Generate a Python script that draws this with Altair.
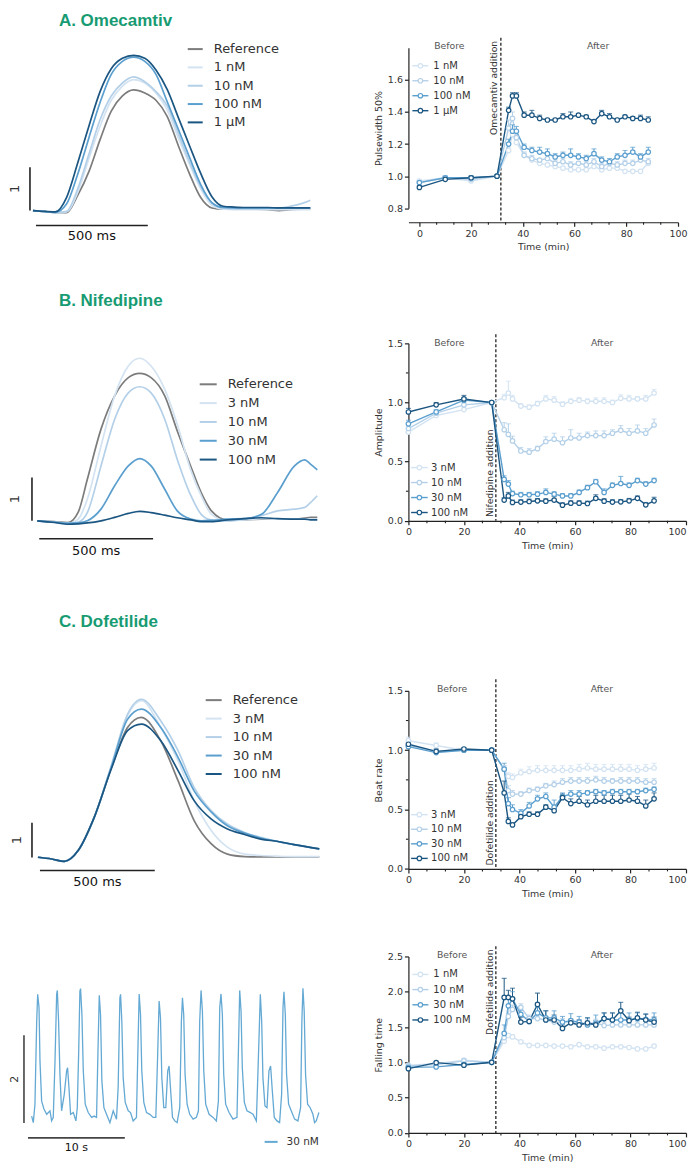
import altair as alt
import pandas as pd

FONT = "DejaVu Sans"
TITLE_FONT = "Liberation Sans"
GREEN = "#179b72"
INK = "#222222"
TXT = "#333333"
SOFT = "#555555"
GRAY = "#7c7c7c"
C1, C2, C3, C4 = "#d3e3f2", "#b4d0e8", "#5b9fcf", "#1b5682"

# ---------------- time-course data (right column) ----------------
TIME_MIN = [0, 10, 20, 30, 34.5, 36, 37.5, 40.5, 43.5, 46.5, 49.5, 52.5, 55.5, 58.5,
            61.5, 64.5, 67.5, 70.5, 73.5, 76.5, 79.5, 82.5, 85.5, 88.5]
ADDITION_MIN = [31.5]
X_MAJOR = [0, 20, 40, 60, 80, 100]
X_MINOR = [6.67, 13.33, 26.67, 33.33, 46.67, 53.33, 66.67, 73.33, 86.67, 93.33]

# A. Omecamtiv - Pulsewidth 50%
A_LABELS = ["1 nM", "10 nM", "100 nM", "1 µM"]
A_1NM = [0.97, 0.99, 0.97, 1.00, 1.16, 1.26, 1.21, 1.13, 1.10, 1.08, 1.07, 1.06, 1.05, 1.04, 1.04, 1.04, 1.06, 1.04, 1.05, 1.05, 1.03, 1.03, 1.03, 1.08]
A_10NM = [0.96, 0.99, 0.98, 1.00, 1.30, 1.36, 1.24, 1.13, 1.11, 1.10, 1.11, 1.08, 1.09, 1.07, 1.08, 1.07, 1.09, 1.06, 1.08, 1.07, 1.08, 1.08, 1.10, 1.09]
A_100NM = [0.96, 0.99, 0.99, 1.00, 1.20, 1.28, 1.28, 1.18, 1.16, 1.15, 1.14, 1.12, 1.13, 1.13, 1.12, 1.11, 1.14, 1.10, 1.09, 1.12, 1.13, 1.15, 1.12, 1.15]
A_1UM = [0.93, 0.98, 0.99, 1.00, 1.41, 1.50, 1.50, 1.38, 1.38, 1.36, 1.35, 1.35, 1.37, 1.37, 1.38, 1.37, 1.34, 1.39, 1.37, 1.35, 1.37, 1.36, 1.36, 1.35]
A_1NM_ERR = [0.01, 0.01, 0.01, 0, 0.02, 0.03, 0.02, 0.02, 0.01, 0.01, 0.01, 0.01, 0.01, 0.01, 0.01, 0.01, 0.02, 0.01, 0.01, 0.01, 0.01, 0.01, 0.01, 0.01]
A_10NM_ERR = [0.01, 0.01, 0.01, 0, 0.05, 0.04, 0.03, 0.02, 0.02, 0.01, 0.02, 0.02, 0.02, 0.02, 0.01, 0.02, 0.02, 0.02, 0.01, 0.02, 0.02, 0.02, 0.02, 0.02]
A_100NM_ERR = [0.01, 0.01, 0.01, 0, 0.03, 0.04, 0.03, 0.02, 0.02, 0.03, 0.03, 0.02, 0.02, 0.04, 0.02, 0.02, 0.03, 0.02, 0.02, 0.02, 0.03, 0.03, 0.02, 0.03]
A_1UM_ERR = [0.01, 0.01, 0.01, 0, 0.02, 0.02, 0.02, 0.02, 0.03, 0.02, 0.01, 0.01, 0.02, 0.03, 0.01, 0.01, 0.01, 0.02, 0.02, 0.01, 0.01, 0.01, 0.02, 0.02]

# B. Nifedipine - Amplitude
B_LABELS = ["3 nM", "10 nM", "30 nM", "100 nM"]
B_3NM = [0.75, 0.89, 0.94, 1.00, 1.04, 1.08, 1.03, 0.97, 0.96, 0.99, 1.03, 1.02, 0.985, 1.01, 1.02, 1.01, 1.01, 1.01, 1.00, 1.035, 1.03, 1.03, 1.03, 1.08]
B_10NM = [0.78, 0.91, 0.98, 1.00, 0.77, 0.73, 0.675, 0.59, 0.58, 0.61, 0.67, 0.69, 0.66, 0.70, 0.70, 0.72, 0.72, 0.72, 0.74, 0.765, 0.74, 0.76, 0.74, 0.81]
B_30NM = [0.82, 0.92, 1.02, 1.00, 0.35, 0.31, 0.23, 0.22, 0.22, 0.225, 0.24, 0.225, 0.21, 0.21, 0.24, 0.28, 0.33, 0.24, 0.30, 0.315, 0.30, 0.34, 0.31, 0.34]
B_100NM = [0.92, 0.98, 1.03, 1.00, 0.175, 0.21, 0.155, 0.158, 0.163, 0.169, 0.166, 0.175, 0.132, 0.149, 0.149, 0.146, 0.19, 0.166, 0.158, 0.16, 0.169, 0.19, 0.135, 0.169]
B_3NM_ERR = [0.02, 0.02, 0.02, 0, 0.03, 0.10, 0.03, 0.02, 0.02, 0.02, 0.03, 0.03, 0.02, 0.02, 0.02, 0.02, 0.03, 0.03, 0.02, 0.03, 0.03, 0.02, 0.03, 0.03]
B_10NM_ERR = [0.02, 0.02, 0.02, 0, 0.06, 0.09, 0.04, 0.03, 0.03, 0.02, 0.04, 0.05, 0.05, 0.07, 0.04, 0.03, 0.04, 0.04, 0.03, 0.04, 0.04, 0.05, 0.04, 0.05]
B_30NM_ERR = [0.03, 0.02, 0.02, 0, 0.03, 0.03, 0.02, 0.02, 0.02, 0.02, 0.03, 0.02, 0.02, 0.02, 0.02, 0.02, 0.02, 0.03, 0.02, 0.06, 0.02, 0.02, 0.02, 0.02]
B_100NM_ERR = [0.03, 0.02, 0.03, 0, 0.02, 0.03, 0.02, 0.02, 0.02, 0.02, 0.02, 0.03, 0.02, 0.02, 0.02, 0.02, 0.03, 0.02, 0.02, 0.02, 0.02, 0.02, 0.02, 0.03]

# C. Dofetilide - Beat rate
C_LABELS = ["3 nM", "10 nM", "30 nM", "100 nM"]
C_3NM = [1.08, 1.04, 1.00, 1.00, 0.84, 0.78, 0.77, 0.81, 0.82, 0.83, 0.83, 0.83, 0.83, 0.83, 0.84, 0.85, 0.84, 0.84, 0.84, 0.84, 0.84, 0.83, 0.84, 0.85]
C_10NM = [1.04, 0.99, 1.00, 1.00, 0.84, 0.66, 0.63, 0.63, 0.66, 0.67, 0.70, 0.71, 0.73, 0.74, 0.74, 0.74, 0.75, 0.74, 0.74, 0.74, 0.74, 0.74, 0.73, 0.73]
C_30NM = [1.03, 0.98, 1.00, 1.00, 0.84, 0.55, 0.50, 0.47, 0.53, 0.59, 0.61, 0.52, 0.61, 0.63, 0.63, 0.64, 0.65, 0.64, 0.65, 0.65, 0.65, 0.65, 0.66, 0.67]
C_100NM = [1.05, 0.99, 1.01, 1.00, 0.64, 0.40, 0.37, 0.44, 0.46, 0.46, 0.52, 0.49, 0.60, 0.55, 0.57, 0.54, 0.57, 0.57, 0.57, 0.57, 0.58, 0.57, 0.53, 0.59]
C_3NM_ERR = [0.03, 0.02, 0.01, 0, 0.03, 0.03, 0.03, 0.03, 0.04, 0.04, 0.04, 0.04, 0.04, 0.04, 0.04, 0.04, 0.04, 0.04, 0.04, 0.04, 0.04, 0.04, 0.04, 0.04]
C_10NM_ERR = [0.02, 0.02, 0.01, 0, 0.03, 0.04, 0.03, 0.02, 0.02, 0.02, 0.02, 0.03, 0.03, 0.03, 0.03, 0.03, 0.03, 0.03, 0.02, 0.03, 0.03, 0.03, 0.03, 0.03]
C_30NM_ERR = [0.02, 0.02, 0.01, 0, 0.05, 0.05, 0.04, 0.03, 0.03, 0.03, 0.03, 0.06, 0.03, 0.03, 0.03, 0.02, 0.02, 0.02, 0.02, 0.02, 0.02, 0.02, 0.02, 0.02]
C_100NM_ERR = [0.02, 0.02, 0.01, 0, 0.10, 0.03, 0.02, 0.02, 0.02, 0.02, 0.02, 0.02, 0.03, 0.04, 0.04, 0.04, 0.05, 0.05, 0.05, 0.05, 0.05, 0.04, 0.05, 0.05]

# D. Dofetilide - Falling time
D_LABELS = ["1 nM", "10 nM", "30 nM", "100 nM"]
D_1NM = [0.96, 0.98, 1.03, 1.00, 1.30, 1.38, 1.36, 1.29, 1.24, 1.24, 1.24, 1.23, 1.23, 1.22, 1.25, 1.22, 1.22, 1.20, 1.22, 1.22, 1.21, 1.19, 1.19, 1.23]
D_10NM = [0.95, 0.97, 1.02, 1.00, 1.35, 1.65, 1.75, 1.78, 1.62, 1.62, 1.60, 1.57, 1.57, 1.57, 1.55, 1.55, 1.56, 1.52, 1.53, 1.53, 1.53, 1.53, 1.53, 1.53]
D_30NM = [0.93, 0.935, 0.97, 1.00, 1.41, 1.80, 1.90, 1.68, 1.58, 1.70, 1.63, 1.63, 1.57, 1.59, 1.57, 1.53, 1.55, 1.62, 1.60, 1.60, 1.60, 1.62, 1.61, 1.60]
D_100NM = [0.91, 0.995, 0.96, 1.00, 1.92, 1.92, 1.90, 1.57, 1.58, 1.82, 1.60, 1.60, 1.48, 1.56, 1.53, 1.56, 1.53, 1.62, 1.60, 1.73, 1.59, 1.63, 1.60, 1.57]
D_1NM_ERR = [0.02, 0.02, 0.02, 0, 0.03, 0.03, 0.03, 0.02, 0.02, 0.02, 0.02, 0.02, 0.02, 0.02, 0.02, 0.02, 0.02, 0.02, 0.02, 0.02, 0.02, 0.02, 0.02, 0.02]
D_10NM_ERR = [0.02, 0.02, 0.03, 0, 0.05, 0.08, 0.06, 0.05, 0.05, 0.05, 0.05, 0.05, 0.05, 0.05, 0.05, 0.05, 0.05, 0.05, 0.05, 0.05, 0.05, 0.05, 0.05, 0.05]
D_30NM_ERR = [0.02, 0.02, 0.02, 0, 0.12, 0.10, 0.10, 0.06, 0.06, 0.08, 0.10, 0.10, 0.08, 0.10, 0.08, 0.10, 0.12, 0.08, 0.10, 0.10, 0.10, 0.08, 0.08, 0.10]
D_100NM_ERR = [0.02, 0.02, 0.02, 0, 0.27, 0.10, 0.15, 0.07, 0.05, 0.16, 0.13, 0.07, 0.05, 0.04, 0.07, 0.07, 0.06, 0.08, 0.10, 0.12, 0.05, 0.08, 0.08, 0.07]

# ---------------- averaged transients (left column) ----------------
TR_A_LABELS = ["Reference", "1 nM", "10 nM", "100 nM", "1 µM"]
TR_A_MS = [0, 50, 100, 150, 200, 250, 300, 350, 400, 450, 500, 550, 600, 650, 700, 750, 800,
           850, 900, 950, 1000, 1050, 1100, 1150, 1200, 1240]
TR_A_REF = [0, -0.02, -0.05, -0.05, 0.35, 0.9, 1.64, 2.3, 2.65, 2.79, 2.72, 2.55, 2.18, 1.5, 0.85, 0.3, 0.06, 0.03, 0.03, 0.03, 0.03, 0.02, 0.0, 0.02, 0.03, 0.03]
TR_A_1NM = [0, -0.02, -0.05, -0.03, 0.42, 1.2, 1.95, 2.55, 2.88, 3.03, 2.95, 2.72, 2.33, 1.68, 1.07, 0.5, 0.12, 0.03, 0.02, 0.02, 0.02, 0.02, 0.02, 0.02, 0.02, 0.02]
TR_A_10NM = [0, -0.02, -0.05, -0.02, 0.5, 1.3, 2.1, 2.65, 2.95, 3.09, 2.98, 2.75, 2.42, 1.78, 1.12, 0.55, 0.18, 0.06, 0.04, 0.04, 0.04, 0.05, 0.06, 0.1, 0.16, 0.24]
TR_A_100NM = [0, -0.02, -0.04, 0.15, 0.84, 1.68, 2.5, 3.15, 3.45, 3.55, 3.45, 3.15, 2.52, 1.88, 1.23, 0.6, 0.18, 0.07, 0.06, 0.06, 0.06, 0.06, 0.06, 0.06, 0.06, 0.06]
TR_A_1UM = [0, -0.02, -0.03, 0.3, 1.1, 1.95, 2.75, 3.28, 3.52, 3.59, 3.52, 3.25, 2.8, 2.15, 1.5, 0.86, 0.32, 0.1, 0.08, 0.07, 0.07, 0.07, 0.06, 0.06, 0.06, 0.06]

TR_B_LABELS = ["Reference", "3 nM", "10 nM", "30 nM", "100 nM"]
TR_B_MS = [0, 75, 135, 180, 220, 280, 340, 400, 450, 500, 560, 615, 675, 720, 765, 835, 910,
           985, 1055, 1130, 1175, 1200, 1230]
TR_B_REF = [0.0, -0.02, -0.04, 0.2, 0.96, 2.12, 2.89, 3.31, 3.41, 3.31, 2.89, 2.08, 1.25, 0.65, 0.23, 0.02, 0.02, 0.04, 0.04, 0.04, 0.06, 0.08, 0.08]
TR_B_3NM = [0, -0.03, -0.06, 0.04, 0.5, 1.73, 2.89, 3.58, 3.76, 3.58, 3.04, 2.23, 1.16, 0.58, 0.15, 0.0, 0.02, 0.05, 0.04, 0.04, 0.04, 0.04, 0.04]
TR_B_10NM = [0, -0.03, -0.06, -0.03, 0.19, 1.27, 2.35, 2.96, 3.10, 2.96, 2.35, 1.42, 0.58, 0.15, 0.02, 0.0, 0.04, 0.12, 0.23, 0.27, 0.31, 0.42, 0.58]
TR_B_30NM = [0, -0.03, -0.06, -0.05, 0.0, 0.27, 0.81, 1.27, 1.44, 1.27, 0.73, 0.23, 0.04, 0.0, 0.01, 0.04, 0.05, 0.15, 0.65, 1.27, 1.41, 1.31, 1.18]
TR_B_100NM = [0, -0.04, -0.08, -0.07, -0.05, 0.0, 0.08, 0.17, 0.22, 0.19, 0.13, 0.07, 0.02, -0.02, -0.02, 0.02, 0.05, 0.07, 0.05, 0.04, 0.04, 0.02, 0.02]

TR_C_LABELS = ["Reference", "3 nM", "10 nM", "30 nM", "100 nM"]
TR_C_MS = [0, 60, 115, 175, 245, 320, 390, 450, 535, 610, 680, 755, 825, 900, 970, 1045, 1115, 1225]
TR_C_REF = [0.01, -0.04, -0.11, 0.20, 1.15, 2.58, 3.72, 4.01, 3.34, 2.20, 1.06, 0.39, 0.10, 0.03, 0.02, 0.02, 0.02, 0.02]
TR_C_3NM = [0.01, -0.04, -0.11, 0.20, 1.15, 2.62, 4.06, 4.49, 3.72, 2.77, 1.63, 0.77, 0.30, 0.10, 0.06, 0.04, 0.03, 0.03]
TR_C_10NM = [0.01, -0.04, -0.11, 0.20, 1.15, 2.65, 4.10, 4.53, 3.91, 3.06, 2.01, 1.34, 0.96, 0.72, 0.58, 0.46, 0.37, 0.25]
TR_C_30NM = [0.01, -0.04, -0.11, 0.20, 1.15, 2.60, 3.96, 4.25, 3.72, 2.87, 1.91, 1.30, 0.91, 0.70, 0.56, 0.46, 0.37, 0.25]
TR_C_100NM = [0.01, -0.04, -0.11, 0.20, 1.15, 2.55, 3.63, 3.82, 3.34, 2.49, 1.63, 1.10, 0.82, 0.66, 0.53, 0.46, 0.37, 0.25]

# raw recording, dofetilide 30 nM (seconds, amplitude)
RAW_LABELS = ["30 nM"]
RAW_S = [0.00, 0.17, 0.34, 0.52, 0.62, 0.76, 0.86, 1.03, 1.27, 1.55,
         1.89, 2.06, 2.23, 2.41, 2.58, 2.65, 2.78, 2.92, 3.09, 3.37,
         3.61, 3.71, 3.85, 4.02, 4.30, 4.57, 4.71, 4.85, 4.98, 5.05,
         5.19, 5.33, 5.53, 5.84, 6.19, 6.46, 6.70, 6.84, 6.98, 7.11,
         7.25, 7.46, 7.73, 8.08, 8.42, 8.76, 8.93, 9.11, 9.18, 9.31,
         9.45, 9.66, 9.97, 10.21, 10.48, 10.82, 10.96, 11.10, 11.24, 11.37,
         11.58, 11.86, 12.20, 12.54, 12.82, 12.99, 13.16, 13.30, 13.44, 13.64,
         13.85, 14.05, 14.19, 14.33, 14.54, 14.78, 15.02, 15.29, 15.46, 15.57,
         15.70, 15.84, 16.05, 16.32, 16.67, 17.01, 17.22, 17.35, 17.49, 17.63,
         17.77, 17.97, 18.32, 18.73, 19.07, 19.28, 19.42, 19.55, 19.69, 19.83,
         20.03, 20.38, 20.79, 21.20, 21.34, 21.48, 21.62, 21.75, 21.96, 22.23,
         22.58, 22.85, 23.20, 23.40, 23.61, 23.75, 23.88, 24.09, 24.30, 24.50,
         24.67, 24.85, 25.05, 25.33, 25.60, 25.81, 25.95, 26.05, 26.19, 26.32,
         26.53, 26.80, 27.15, 27.49, 27.77, 27.90, 28.01, 28.14, 28.28, 28.49,
         28.76, 29.04, 29.21, 29.38, 29.66]
RAW_V = [0.11, -0.04, 0.38, 2.27, 2.88, 2.58, 1.36, 0.45, 0.27, 0.15,
         0.23, 0.00, 0.08, 1.36, 2.88, 2.97, 2.27, 1.06, 0.23, 0.61,
         1.14, 1.21, 0.76, 0.15, 0.19, 0.00, 0.30, 1.52, 2.95, 3.01,
         2.42, 1.14, 0.38, 0.19, 0.08, 0.11, 0.08, 1.52, 2.86, 2.42,
         0.91, 0.30, 0.15, -0.04, 0.23, 0.04, 0.76, 2.80, 2.88, 2.27,
         0.98, 0.42, 0.23, 0.19, 0.00, 0.08, 1.52, 2.89, 2.42, 1.14,
         0.42, 0.19, 0.15, 0.08, 0.08, 1.36, 2.73, 2.35, 0.98, 0.30,
         0.30, 1.14, 1.25, 0.76, 0.08, 0.00, -0.04, 0.30, 2.27, 2.80,
         2.42, 1.06, 0.38, 0.15, 0.04, 0.08, 0.23, 2.27, 2.97, 2.50,
         1.14, 0.38, 0.15, 0.08, 0.00, 0.45, 2.58, 2.89, 2.42, 1.06,
         0.38, 0.19, 0.04, 0.08, 1.52, 2.97, 2.50, 1.21, 0.42, 0.23,
         0.19, 0.15, 0.00, 1.36, 2.88, 2.27, 0.98, 0.34, 0.30, 1.14,
         1.25, 0.68, 0.08, 0.00, -0.04, 0.61, 2.58, 2.94, 2.42, 1.06,
         0.38, 0.23, 0.04, 0.00, 0.30, 2.27, 3.02, 2.50, 1.06, 0.38,
         0.30, 0.15, -0.04, 0.00, 0.19]

LEFT_W = 401
PT_SIZE = 20


def text_layer(txt, x, y, **kw):
    base = dict(font=FONT, color=TXT, fontSize=9.3, baseline="middle")
    base.update(kw)
    return alt.Chart(pd.DataFrame({"txt": [txt]})).mark_text(**base).encode(
        x=alt.value(x), y=alt.value(y), text="txt:N")


def time_course(labels, values, errors, colors, y_domain, y_ticks, y_title, width, height,
                x_domain, x_offset, add_text, add_x, add_y, add_align, dash_top,
                before_xy, after_xy, leg_top, leg_step, leg_x, y_minor=None, last_right=False):
    rows = []
    for lab, vals, errs in zip(labels, values, errors):
        for t, v, e in zip(TIME_MIN, vals, errs):
            rows.append({"t": t, "v": v, "err": e, "up": v + e, "s": lab})
    df = pd.DataFrame(rows)
    xs = alt.Scale(domain=x_domain, nice=False, zero=False)
    ys = alt.Scale(domain=y_domain, nice=False, zero=False)
    cs = alt.Scale(domain=labels, range=colors)
    xkw = dict(values=X_MAJOR, format="d", title="Time (min)", offset=x_offset,
               labelFlush=False, labelOverlap=False)
    if last_right:
        xkw["labelAlign"] = {"condition": {"test": "datum.value >= 100", "value": "right"},
                             "value": "center"}
    xaxis = alt.Axis(**xkw)
    yaxis = alt.Axis(values=y_ticks, format=".1f", title=y_title, labelFlush=False)

    def X(f):
        return alt.X(f"{f}:Q", scale=xs, axis=xaxis)

    def Y(f):
        return alt.Y(f"{f}:Q", scale=ys, axis=yaxis)

    col = alt.Color("s:N", scale=cs, legend=None)
    base = alt.Chart(df)
    layers = []
    layers.append(alt.Chart(pd.DataFrame({"t": ADDITION_MIN})).mark_rule(
        strokeDash=[3, 2], color=INK, strokeWidth=1.3).encode(
        x=X("t"), y=alt.value(dash_top), y2=alt.value(height + x_offset)))
    mx = alt.Chart(pd.DataFrame({"m": X_MINOR}))
    layers.append(mx.mark_rule(color=INK, strokeWidth=1.1).encode(
        x=X("m"), y=alt.value(height + x_offset), y2=alt.value(height + x_offset + 2.5)))
    if y_minor:
        my = alt.Chart(pd.DataFrame({"m": y_minor}))
        layers.append(my.mark_rule(color=INK, strokeWidth=1.1).encode(
            y=Y("m"), x=alt.value(0), x2=alt.value(-2.5)))
    layers.append(base.mark_line(strokeWidth=1.4).encode(x=X("t"), y=Y("v"), color=col))
    eb = base.transform_filter("datum.err > 0")
    layers.append(eb.mark_rule(strokeWidth=1.0).encode(x=X("t"), y=Y("v"), y2="up:Q", color=col))
    layers.append(eb.mark_tick(orient="horizontal", size=5, thickness=1.1).encode(
        x=X("t"), y=Y("up"), color=col))
    layers.append(base.mark_point(shape="circle", size=PT_SIZE, fill="white", fillOpacity=1,
                                  opacity=1, strokeWidth=1.2).encode(
        x=X("t"), y=Y("v"), stroke=alt.Stroke("s:N", scale=cs, legend=None)))
    # annotations
    layers.append(text_layer(add_text, add_x, add_y, angle=270, align=add_align))
    layers.append(text_layer("Before", before_xy[0], before_xy[1], align="center", color=SOFT))
    layers.append(text_layer("After", after_xy[0], after_xy[1], align="center", color=SOFT))
    # legend
    ldf = pd.DataFrame({"s": labels, "i": list(range(len(labels)))})
    lb = alt.Chart(ldf).transform_calculate(py=f"{leg_top} + datum.i * {leg_step}")
    py = alt.Y("py:Q", scale=None, axis=None)
    layers.append(lb.mark_rule(strokeWidth=1.4).encode(
        x=alt.value(leg_x[0]), x2=alt.value(leg_x[1]), y=py, color=col))
    layers.append(lb.mark_point(shape="circle", size=PT_SIZE, fill="white", fillOpacity=1,
                                opacity=1, strokeWidth=1.2).encode(
        x=alt.value((leg_x[0] + leg_x[1]) / 2), y=py,
        stroke=alt.Stroke("s:N", scale=cs, legend=None)))
    layers.append(lb.mark_text(align="left", baseline="middle", fontSize=10, font=FONT,
                               color=TXT).encode(x=alt.value(leg_x[2]), y=py, text="s:N"))
    return alt.layer(*layers).properties(width=width, height=height)


def trace_panel(times, labels, series, colors, x_domain, y_domain, height, *, line_w=1.7,
                interp="monotone", title=None, title_y=0, leg_x=(0, 0, 0), leg_top=0,
                leg_step=18, leg_font=13, vbar=None, hbar=None, vlabel=None, hlabel=None,
                bar_color=INK, bar_w=1.6, bar_font=13, anchor_y=None):
    xs = alt.Scale(domain=x_domain, nice=False, zero=False)
    ys = alt.Scale(domain=y_domain, nice=False, zero=False)

    def X(f):
        return alt.X(f"{f}:Q", scale=xs, axis=None)

    def Y(f):
        return alt.Y(f"{f}:Q", scale=ys, axis=None)

    rows = []
    for lab, vals in zip(labels, series):
        for t, v in zip(times, vals):
            rows.append({"t": t, "v": v, "s": lab})
    df = pd.DataFrame(rows)
    cs = alt.Scale(domain=labels, range=colors)
    col = alt.Color("s:N", scale=cs, legend=None)
    layers = [alt.Chart(df).mark_line(strokeWidth=line_w, interpolate=interp).encode(
        x=X("t"), y=Y("v"), color=col)]
    layers.append(alt.Chart(pd.DataFrame({"t": [vbar[0]], "v": [vbar[1]], "v2": [vbar[2]]}))
                  .mark_rule(color=bar_color, strokeWidth=bar_w)
                  .encode(x=X("t"), y=Y("v"), y2="v2:Q"))
    layers.append(alt.Chart(pd.DataFrame({"t": [hbar[0]], "t2": [hbar[1]], "v": [hbar[2]]}))
                  .mark_rule(color=bar_color, strokeWidth=bar_w)
                  .encode(x=X("t"), x2="t2:Q", y=Y("v")))
    layers.append(alt.Chart(pd.DataFrame({"txt": [vlabel[0]], "t": [vlabel[1]], "v": [vlabel[2]]}))
                  .mark_text(angle=270, fontSize=bar_font, color=TXT, font=FONT,
                             baseline="middle", align="center")
                  .encode(x=X("t"), y=Y("v"), text="txt:N"))
    layers.append(alt.Chart(pd.DataFrame({"txt": [hlabel[0]], "t": [hlabel[1]], "v": [hlabel[2]]}))
                  .mark_text(fontSize=bar_font, color="#111111", font=FONT,
                             baseline="middle", align="center")
                  .encode(x=X("t"), y=Y("v"), text="txt:N"))
    ldf = pd.DataFrame({"s": labels, "i": list(range(len(labels)))})
    lb = alt.Chart(ldf).transform_calculate(py=f"{leg_top} + datum.i * {leg_step}")
    py = alt.Y("py:Q", scale=None, axis=None)
    layers.append(lb.mark_rule(strokeWidth=2).encode(
        x=alt.value(leg_x[0]), x2=alt.value(leg_x[1]), y=py, color=col))
    layers.append(lb.mark_text(align="left", baseline="middle", fontSize=leg_font, font=FONT,
                               color=TXT).encode(x=alt.value(leg_x[2]), y=py, text="s:N"))
    if title:
        layers.append(text_layer(title, 51, title_y, font=TITLE_FONT, fontWeight="bold",
                                 fontSize=17, color=GREEN, align="left"))
    if anchor_y is not None:
        layers.append(alt.Chart(pd.DataFrame({"a": [0]})).mark_rule(
            opacity=0, strokeWidth=0.1).encode(
            x=alt.value(0), x2=alt.value(1), y=alt.value(anchor_y)))
    return alt.layer(*layers).properties(width=LEFT_W, height=height)


# ---------------- panels ----------------
a_left = trace_panel(
    TR_A_MS, TR_A_LABELS, [TR_A_REF, TR_A_1NM, TR_A_10NM, TR_A_100NM, TR_A_1UM],
    [GRAY, C1, C2, C3, C4], [-111.6, 1678.6], [-3.055, 3.764], 295.3,
    title="A. Omecamtiv", title_y=-27, leg_x=(180, 195, 206), leg_top=1.3, leg_step=18.35,
    vbar=(-13.4, 0, 1), hbar=(13.4, 513.4, -0.346), vlabel=("1", -80, 0.5),
    hlabel=("500 ms", 263, -0.60), anchor_y=-39)

a_right = time_course(
    A_LABELS, [A_1NM, A_10NM, A_100NM, A_1UM], [A_1NM_ERR, A_10NM_ERR, A_100NM_ERR, A_1UM_ERR],
    [C1, C2, C3, C4], [0.8, 1.8], [0.8, 1.0, 1.2, 1.4, 1.6], "Pulsewidth 50%", 270, 160.7,
    [-4.25, 100], 14, "Omecamtiv addition", 86, -7, "right", -10,
    (41, -1.3), (190, -1.3), 18, 15, (4, 20, 25))

b_left = trace_panel(
    TR_B_MS, TR_B_LABELS, [TR_B_REF, TR_B_3NM, TR_B_10NM, TR_B_30NM, TR_B_100NM],
    [GRAY, C1, C2, C3, C4], [-128.5, 1630.3], [-3.926, 4.104], 347.7,
    title="B. Nifedipine", title_y=-42.3, leg_x=(192, 209, 220), leg_top=41, leg_step=18.85,
    vbar=(-23.2, 0, 1), hbar=(8.8, 508.8, -0.416), vlabel=("1", -98, 0.5),
    hlabel=("500 ms", 259, -0.69))

b_right = time_course(
    B_LABELS, [B_3NM, B_10NM, B_30NM, B_100NM], [B_3NM_ERR, B_10NM_ERR, B_30NM_ERR, B_100NM_ERR],
    [C1, C2, C3, C4], [0, 1.5], [0, 0.5, 1.0, 1.5], "Amplitude", 278, 177.7,
    [0, 100], 0, "Nifedipine addition", 82, 174, "left", -9,
    (41, -0.6), (194, -0.6), 124.4, 15, (2.7, 19.3, 22.7), y_minor=[0.25, 0.75, 1.25],
    last_right=True)

c_left = trace_panel(
    TR_C_MS, TR_C_LABELS, [TR_C_REF, TR_C_3NM, TR_C_10NM, TR_C_30NM, TR_C_100NM],
    [GRAY, C1, C2, C3, C4], [-130.4, 1613], [-2.809, 4.771], 265.3,
    title="C. Dofetilide", title_y=-69.3, leg_x=(198, 214, 225), leg_top=9.3, leg_step=18.5,
    vbar=(-26, 0, 1), hbar=(8.7, 508.7, -0.37), vlabel=("1", -91, 0.5),
    hlabel=("500 ms", 259, -0.71))

c_right = time_course(
    C_LABELS, [C_3NM, C_10NM, C_30NM, C_100NM], [C_3NM_ERR, C_10NM_ERR, C_30NM_ERR, C_100NM_ERR],
    [C1, C2, C3, C4], [0, 1.5], [0, 0.5, 1.0, 1.5], "Beat rate", 278, 178.3,
    [0, 100], 0, "Dofetilide addition", 82, 175, "left", -11.7,
    (43.7, -1.7), (193.7, -1.7), 124, 14.6, (2.7, 19.3, 22.7), y_minor=[0.25, 0.75, 1.25],
    last_right=True)

d_left = trace_panel(
    RAW_S, RAW_LABELS, [RAW_V], ["#64a9d4"], [-2.443, 38.9], [-0.273, 3.743], 176.7,
    line_w=1.3, interp="linear", leg_x=(257, 270, 279), leg_top=185.7, leg_step=15,
    leg_font=10.5, vbar=(-0.794, -0.05, 1.95), hbar=(-0.38, 9.62, -0.386),
    vlabel=("2", -1.72, 0.95), hlabel=("10 s", 4.62, -0.61), bar_color="#444444",
    bar_font=11)

d_right = time_course(
    D_LABELS, [D_1NM, D_10NM, D_30NM, D_100NM], [D_1NM_ERR, D_10NM_ERR, D_30NM_ERR, D_100NM_ERR],
    [C1, C2, C3, C4], [0, 2.5], [0, 0.5, 1.0, 1.5, 2.0, 2.5], "Falling time", 278, 176.7,
    [0, 100], 0, "Dofetilide addition", 82, -7, "right", -10.3,
    (43.7, -1.3), (193.7, -1.3), 18, 15.2, (4, 20, 25), last_right=True)

chart = alt.concat(
    a_left, a_right, b_left, b_right, c_left, c_right, d_left, d_right,
    columns=2, spacing=0, bounds="flush", align="each"
).resolve_scale(
    color="independent", stroke="independent"
).properties(padding=0).configure(font=FONT).configure_view(stroke=None).configure_axis(
    labelFont=FONT, titleFont=FONT, labelFontSize=9.5, titleFontSize=9.5,
    titleFontWeight="normal", labelColor=TXT, titleColor=TXT, domainColor=INK,
    tickColor=INK, domainWidth=1.2, tickWidth=1.2, tickSize=4, grid=False,
    labelPadding=2, titlePadding=4)

chart.save("out.html", embed_options={"renderer": "svg", "actions": False})
